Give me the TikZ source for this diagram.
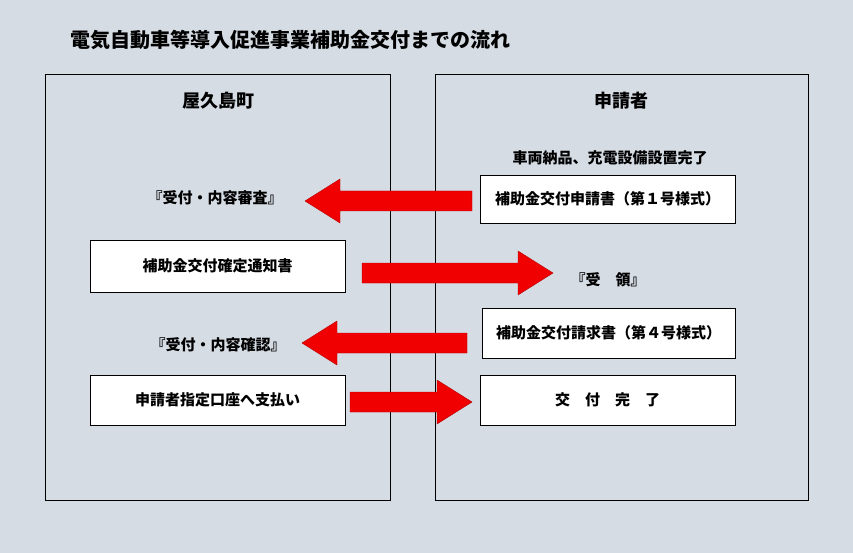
\documentclass[tikz,border=0pt]{standalone}
\usepackage{fontspec}
\setmainfont{Noto Sans CJK JP}
\definecolor{bg}{RGB}{214,220,228}
\definecolor{ar}{RGB}{240,0,0}
\tikzset{
 panel/.style={draw=black,line width=1pt},
 wbox/.style={draw=black,fill=white,line width=0.6pt,font=\bfseries\fontsize{15}{17}\selectfont},
 lbl/.style={font=\bfseries\fontsize{15}{17}\selectfont},
 arr/.style={fill=ar,draw=ar!75!black,line width=0.4pt}
}
\newcommand{\rarr}[3]{\draw[arr] (#1,#3-10) -- (#2-35,#3-10) -- (#2-35,#3-22) -- (#2,#3) -- (#2-35,#3+22) -- (#2-35,#3+10) -- (#1,#3+10) -- cycle;}
\newcommand{\larr}[3]{\draw[arr] (#1,#3-10) -- (#2+35,#3-10) -- (#2+35,#3-22) -- (#2,#3) -- (#2+35,#3+22) -- (#2+35,#3+10) -- (#1,#3+10) -- cycle;}
\begin{document}
\begin{tikzpicture}[x=1pt,y=-1pt]
\fill[bg] (0,0) rectangle (853,553);
\useasboundingbox (0,0) rectangle (853,553);
\node[font=\bfseries\fontsize{20}{23}\selectfont,anchor=west,inner sep=0pt] (title) at (70,40) {電気自動車等導入促進事業補助金交付までの流れ};
\draw[panel] (45,75) rectangle (390,500);
\draw[panel] (435,75) rectangle (808,500);
\node[font=\bfseries\fontsize{18}{21}\selectfont] (hl) at (218,101) {屋久島町};
\node[font=\bfseries\fontsize{18}{21}\selectfont] (hr) at (621,101) {申請者};
\node[lbl] (t1) at (610,158) {車両納品、充電設備設置完了};
\node[wbox,minimum width=255pt,minimum height=48pt] (b1) at (607.5,199) {補助金交付申請書（第１号様式）};
\node[lbl] (r1) at (215,198) {『受付・内容審査』};
\larr{472}{305}{201}
\node[wbox,minimum width=255pt,minimum height=52pt] (b2) at (217.5,266) {補助金交付確定通知書};
\rarr{362}{553}{273}
\node[lbl] (r2) at (608,280) {『受　領』};
\node[wbox,minimum width=253pt,minimum height=50pt] (b3) at (608.5,333) {補助金交付請求書（第４号様式）};
\node[lbl] (r3) at (218,345) {『受付・内容確認』};
\larr{467}{302}{343}
\node[wbox,minimum width=255pt,minimum height=50pt] (b4) at (217.5,400) {申請者指定口座へ支払い};
\rarr{350}{472}{402}
\node[wbox,minimum width=255pt,minimum height=50pt] (b5) at (607.5,400) {交　付　完　了};
\end{tikzpicture}
\end{document}
